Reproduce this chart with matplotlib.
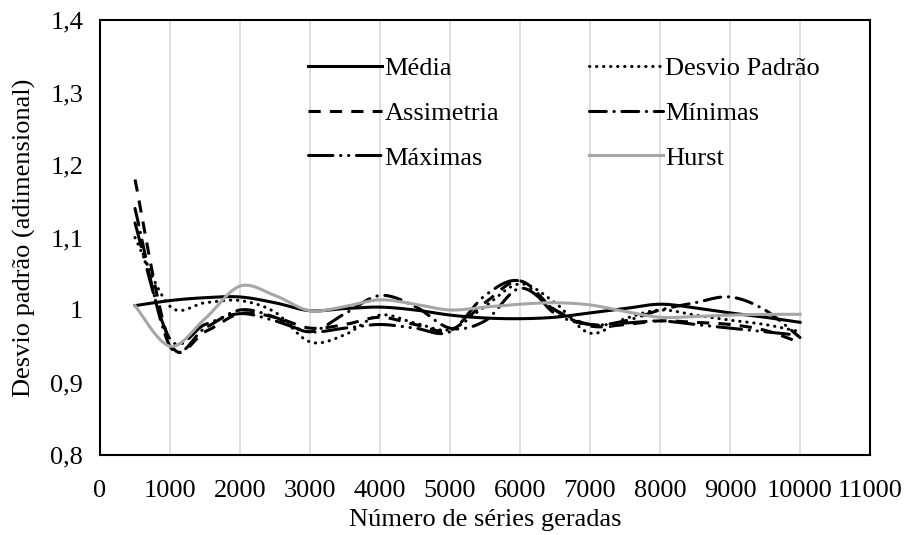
import numpy as np
import matplotlib.pyplot as plt

plt.rcParams['font.family'] = ['Liberation Serif', 'DejaVu Serif']
plt.rcParams['font.size'] = 19

# número de séries geradas
n_series = [500, 1000, 1500, 2000, 2500, 3000, 3500, 4000, 4500, 5000,
            5500, 6000, 6500, 7000, 7500, 8000, 8500, 9000, 9500, 10000]

media = [1.006, 1.013, 1.017, 1.018, 1.010, 0.999, 1.002, 1.004, 1.000, 0.993,
         0.989, 0.988, 0.990, 0.996, 1.002, 1.008, 1.003, 0.996, 0.990, 0.983]
desvio = [1.100, 1.005, 1.010, 1.013, 0.997, 0.956, 0.966, 0.993, 0.982, 0.973,
          1.005, 1.036, 1.010, 0.968, 0.988, 1.000, 0.993, 0.986, 0.980, 0.970]
assimetria = [1.180, 0.955, 0.970, 0.995, 0.990, 0.975, 0.980, 0.990, 0.980, 0.972,
              1.010, 1.040, 1.000, 0.978, 0.980, 0.985, 0.983, 0.980, 0.972, 0.955]
minimas = [1.140, 0.950, 0.975, 1.000, 0.990, 0.970, 0.995, 1.020, 1.005, 0.975,
           0.985, 1.030, 1.000, 0.980, 0.985, 1.000, 1.010, 1.018, 1.000, 0.962]
maximas = [1.120, 0.960, 0.980, 0.995, 0.985, 0.970, 0.975, 0.980, 0.975, 0.970,
           1.020, 1.040, 0.995, 0.980, 0.982, 0.985, 0.980, 0.975, 0.970, 0.965]
hurst = [1.006, 0.950, 0.988, 1.033, 1.020, 0.999, 1.005, 1.014, 1.008, 1.000,
         1.004, 1.008, 1.010, 1.007, 0.998, 0.990, 0.991, 0.993, 0.994, 0.994]

x_ticks = [0, 1000, 2000, 3000, 4000, 5000, 6000, 7000, 8000, 9000, 10000, 11000]
y_ticks = [0.8, 0.9, 1.0, 1.1, 1.2, 1.3, 1.4]
y_labels = ['0,8', '0,9', '1', '1,1', '1,2', '1,3', '1,4']


def suaviza(x, y, n=30):
    # linha suavizada estilo Excel (Catmull-Rom como Bezier)
    x = np.asarray(x, float)
    y = np.asarray(y, float)
    px = np.concatenate([[x[0]], x, [x[-1]]])
    py = np.concatenate([[y[0]], y, [y[-1]]])
    t = np.linspace(0, 1, n)[:, None]
    pts = []
    for i in range(1, len(px) - 2):
        p0 = np.array([px[i], py[i]])
        p3 = np.array([px[i + 1], py[i + 1]])
        p1 = p0 + (p3 - np.array([px[i - 1], py[i - 1]])) / 6
        p2 = p3 - (np.array([px[i + 2], py[i + 2]]) - p0) / 6
        b = ((1 - t) ** 3) * p0 + 3 * ((1 - t) ** 2) * t * p1 + 3 * (1 - t) * t ** 2 * p2 + t ** 3 * p3
        pts.append(b)
    pts = np.vstack(pts)
    return pts[:, 0], pts[:, 1]


fig = plt.figure(figsize=(9.06, 5.35), dpi=100)
ax = fig.add_axes([100 / 906, 80 / 535, 770 / 906, 435 / 535])

lw = 2.2
estilos = [
    ('Média', media, dict(color='black', linestyle='-')),
    ('Desvio Padrão', desvio, dict(color='black', linestyle=(0, (0.1, 2.2)), dash_capstyle='round')),
    ('Assimetria', assimetria, dict(color='black', linestyle=(0, (4, 3)))),
    ('Mínimas', minimas, dict(color='black', linestyle=(0, (5.5, 2.5, 0.1, 2.5)), dash_capstyle='round')),
    ('Máximas', maximas, dict(color='black', linestyle=(0, (8, 2.5, 0.1, 2.5, 0.1, 2.5)), dash_capstyle='round')),
    ('Hurst', hurst, dict(color='#a6a6a6', linestyle='-')),
]
linhas = {}
for nome, vals, kw in estilos:
    xs, ys = suaviza(n_series, vals)
    linhas[nome], = ax.plot(xs, ys, lw=lw, label=nome, **kw)

ax.set_xlim(0, 11000)
ax.set_ylim(0.8, 1.4)
ax.set_xticks(x_ticks)
ax.set_yticks(y_ticks)
ax.set_yticklabels(y_labels)
ax.tick_params(length=0)
ax.tick_params(axis='x', pad=18)
ax.tick_params(axis='y', pad=12)
ax.grid(axis='x', color='#d9d9d9', lw=1.2)
ax.set_axisbelow(True)
for s in ax.spines.values():
    s.set_linewidth(1.5)
    s.set_color('black')

ax.set_xlabel('Número de séries geradas', labelpad=5)
ax.set_ylabel('Desvio padrão (adimensional)', labelpad=10)

# legenda preenchida por linhas (como no Excel)
ordem = ['Média', 'Assimetria', 'Máximas', 'Desvio Padrão', 'Mínimas', 'Hurst']
ax.legend([linhas[k] for k in ordem], ordem, ncol=2, frameon=False, loc='upper left',
          bbox_to_anchor=(308 / 906, 1 - 57 / 535), bbox_transform=fig.transFigure,
          borderpad=0, borderaxespad=0, handlelength=2.8, handletextpad=0.1,
          columnspacing=3.4, labelspacing=0.8)

fig.savefig('out.png', dpi=100)
